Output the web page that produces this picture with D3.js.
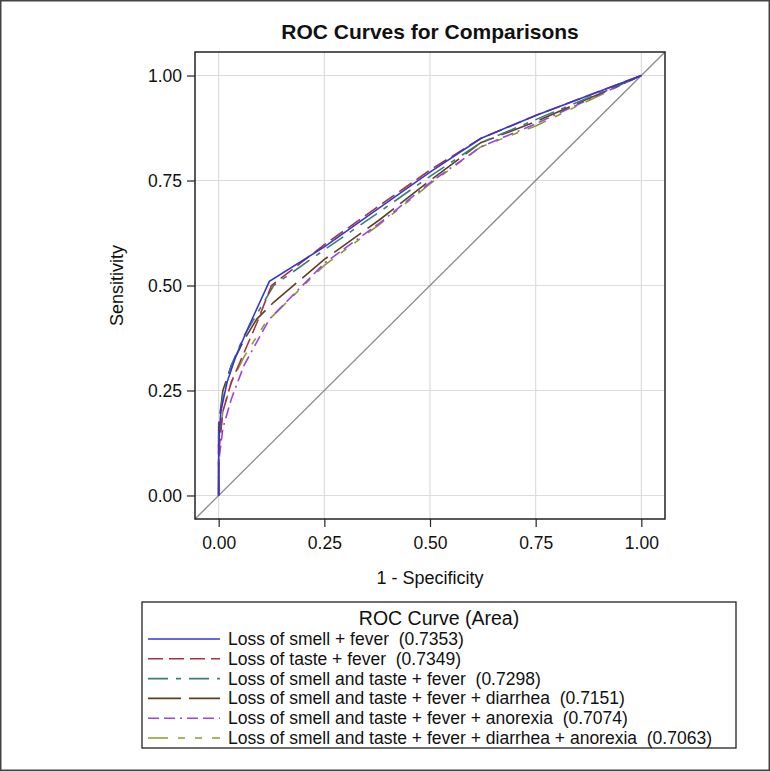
<!DOCTYPE html>
<html><head><meta charset="utf-8">
<script src="https://cdn.jsdelivr.net/npm/d3@7"></script>
<style>body{margin:0;background:#fff}svg text{font-family:"Liberation Sans",Arial,sans-serif;white-space:pre}</style>
</head><body>
<svg id="c" width="770" height="771"></svg>
<script>
const seriesNames = [
  "Loss of smell + fever",
  "Loss of taste + fever",
  "Loss of smell and taste + fever",
  "Loss of smell and taste + fever + diarrhea",
  "Loss of smell and taste + fever + anorexia",
  "Loss of smell and taste + fever + diarrhea + anorexia"
];
const areas = [0.7353, 0.7349, 0.7298, 0.7151, 0.7074, 0.7063];
const fpr1 = [0,0,0.005,0.02,0.04,0.07,0.12,0.25,0.38,0.50,0.62,0.75,1];
const tpr1 = [0,0.12,0.20,0.27,0.33,0.40,0.51,0.592,0.685,0.77,0.85,0.905,1];
const fpr2 = [0,0,0.01,0.03,0.06,0.09,0.125,0.25,0.38,0.50,0.62,0.75,1];
const tpr2 = [0,0.10,0.20,0.27,0.34,0.41,0.50,0.597,0.69,0.775,0.85,0.905,1];
const fpr3 = [0,0,0.01,0.03,0.06,0.13,0.25,0.38,0.50,0.62,0.75,1];
const tpr3 = [0,0.15,0.24,0.31,0.38,0.50,0.585,0.675,0.76,0.84,0.895,1];
const fpr4 = [0,0,0.01,0.03,0.06,0.09,0.13,0.25,0.38,0.50,0.62,0.75,1];
const tpr4 = [0,0.17,0.25,0.31,0.37,0.42,0.46,0.562,0.656,0.75,0.84,0.89,1];
const fpr5 = [0,0,0.01,0.03,0.06,0.12,0.25,0.38,0.50,0.62,0.75,1];
const tpr5 = [0,0.08,0.16,0.23,0.31,0.42,0.553,0.648,0.745,0.83,0.885,1];
const fpr6 = [0,0,0.01,0.03,0.06,0.11,0.25,0.38,0.50,0.62,0.75,1];
const tpr6 = [0,0.12,0.20,0.27,0.33,0.41,0.548,0.645,0.742,0.83,0.88,1];
const tickValues = [0, 0.25, 0.5, 0.75, 1];

const fprs = [fpr1,fpr2,fpr3,fpr4,fpr5,fpr6];
const tprs = [tpr1,tpr2,tpr3,tpr4,tpr5,tpr6];
const colors = ["#3535d8","#a8323e","#3d7d72","#5a4220","#9b42ee","#8d9c2e"];
const dashes = ["", "15,6", "20,8,5,8", "33,8", "11,5,11,5,2,5", "20,10,7,10,7,10"];

const svg = d3.select("#c");
svg.append("rect").attr("x",0.75).attr("y",0.75).attr("width",768.5).attr("height",769.5)
  .attr("fill","#fff").attr("stroke","#444").attr("stroke-width",1.5);

const L=195,R=665,T=52,B=519;
const x = d3.scaleLinear().domain([-0.056,1.056]).range([L,R]);
const y = d3.scaleLinear().domain([-0.056,1.056]).range([B,T]);

// grid
const g = svg.append("g");
g.selectAll(".gx").data(tickValues).join("line")
  .attr("x1",d=>x(d)).attr("x2",d=>x(d)).attr("y1",T).attr("y2",B)
  .attr("stroke","#dcdcdc").attr("stroke-width",1.2);
g.selectAll(".gy").data(tickValues).join("line")
  .attr("y1",d=>y(d)).attr("y2",d=>y(d)).attr("x1",L).attr("x2",R)
  .attr("stroke","#dcdcdc").attr("stroke-width",1.2);

// diagonal
svg.append("line").attr("x1",x(-0.056)).attr("y1",y(-0.056)).attr("x2",x(1.056)).attr("y2",y(1.056))
  .attr("stroke","#8a8a8a").attr("stroke-width",1.3);

// curves
const line = d3.line().x(d=>x(d[0])).y(d=>y(d[1]));
for (let i=5;i>=0;i--){
  const pts = fprs[i].map((f,j)=>[f,tprs[i][j]]);
  svg.append("path").attr("d",line(pts)).attr("fill","none")
    .attr("stroke",colors[i]).attr("stroke-width",1.6)
    .attr("stroke-dasharray",dashes[i]||null);
}

// axes
const fmt = d3.format(".2f");
const xa = svg.append("g").attr("transform",`translate(0,${B})`)
  .call(d3.axisBottom(x).tickValues(tickValues).tickFormat(fmt).tickSize(8).tickPadding(10).tickSizeOuter(0));
const ya = svg.append("g").attr("transform",`translate(${L},0)`)
  .call(d3.axisLeft(y).tickValues(tickValues).tickFormat(fmt).tickSize(8).tickPadding(5).tickSizeOuter(0));
[xa,ya].forEach(a=>{
  a.select(".domain").remove();
  a.selectAll("line").attr("stroke","#222").attr("stroke-width",1.2);
  a.selectAll("text").attr("font-size",17.5).attr("fill","#111")
    .style("font-family","'Liberation Sans',Arial,sans-serif");
});

// frame
svg.append("rect").attr("x",L).attr("y",T).attr("width",R-L).attr("height",B-T)
  .attr("fill","none").attr("stroke","#222").attr("stroke-width",1.5);

// title & labels
svg.append("text").attr("x",(L+R)/2).attr("y",39).attr("text-anchor","middle")
  .attr("font-size",21).attr("font-weight","bold").attr("fill","#111").text("ROC Curves for Comparisons");
svg.append("text").attr("x",(L+R)/2).attr("y",584).attr("text-anchor","middle")
  .attr("font-size",18).attr("fill","#111").text("1 - Specificity");
svg.append("text").attr("transform",`translate(123,${(T+B)/2}) rotate(-90)`).attr("text-anchor","middle")
  .attr("font-size",18).attr("fill","#111").text("Sensitivity");

// legend
const LX=142, LY=602, LW=594, LH=146;
svg.append("rect").attr("x",LX).attr("y",LY).attr("width",LW).attr("height",LH)
  .attr("fill","#fff").attr("stroke","#222").attr("stroke-width",1.3);
svg.append("text").attr("x",LX+LW/2).attr("y",LY+23).attr("text-anchor","middle")
  .attr("font-size",19.5).attr("fill","#111").text("ROC Curve (Area)");
seriesNames.forEach((n,i)=>{
  const cy = LY+37+i*19.8;
  svg.append("line").attr("x1",LX+6).attr("x2",LX+78).attr("y1",cy).attr("y2",cy)
    .attr("stroke",colors[i]).attr("stroke-width",1.6).attr("stroke-dasharray",dashes[i]||null);
  svg.append("text").attr("x",LX+86).attr("y",cy+6).attr("font-size",17.5).attr("fill","#111")
    .text(n+"  ("+areas[i].toFixed(4)+")");
});
</script>
</body></html>
